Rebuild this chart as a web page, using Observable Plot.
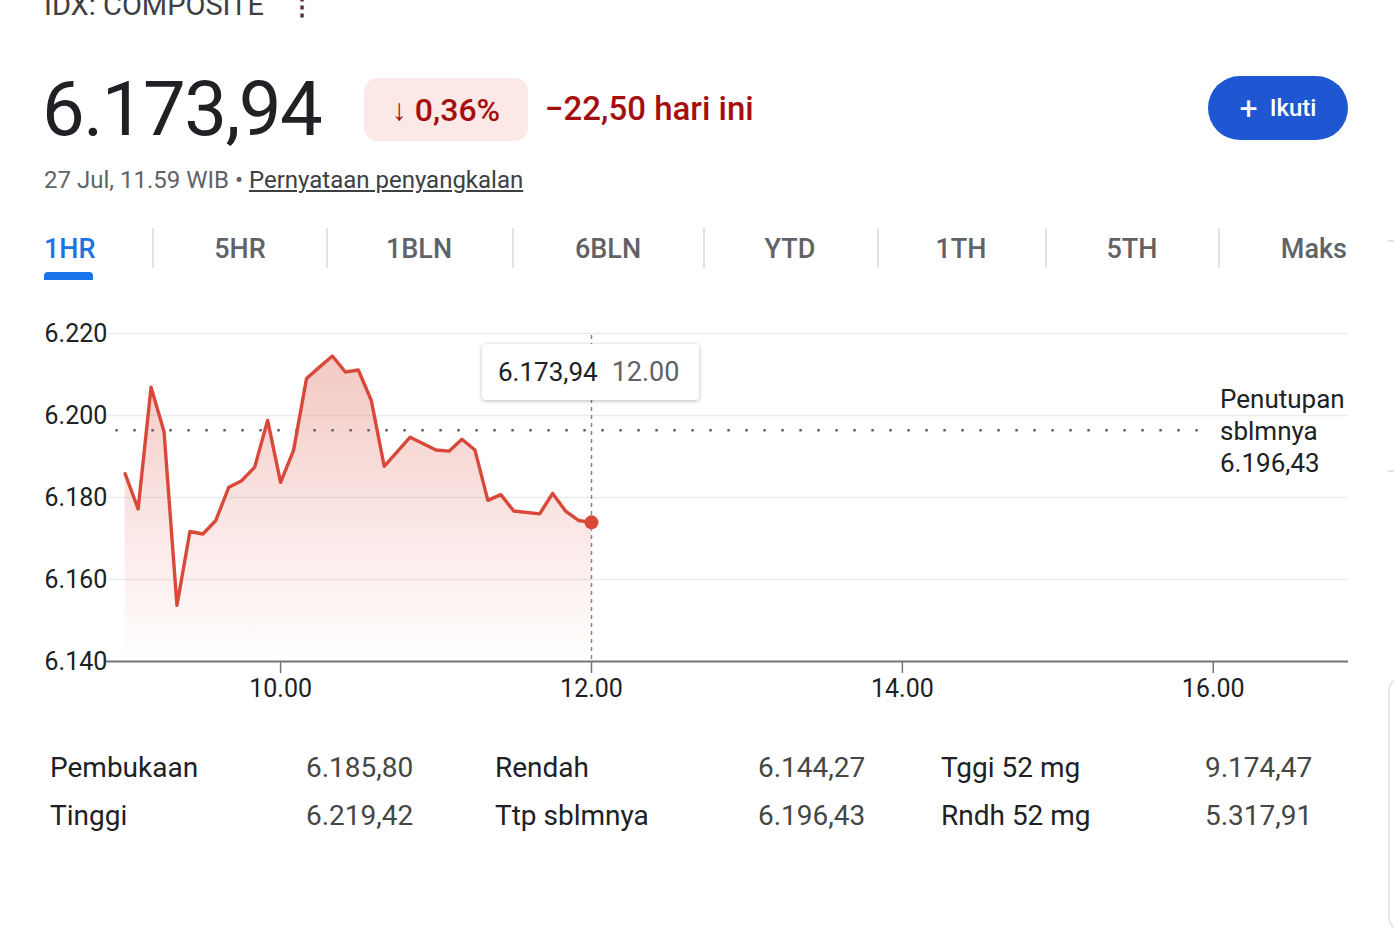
<!DOCTYPE html>
<html><head><meta charset="utf-8">
<script src="https://cdn.jsdelivr.net/npm/d3@7"></script>
<script src="https://cdn.jsdelivr.net/npm/@observablehq/plot@0.6"></script>
<style>
body{margin:0;background:#fff;font-family:Roboto,"Noto Sans",sans-serif;color:#202124;width:1394px;height:952px;position:relative;overflow:hidden}
.abs{position:absolute;white-space:nowrap}
.tab{position:absolute;top:235px;font-size:27px;font-weight:500;color:#5f6368;line-height:28px;transform:translateX(-50%)}
.sep{position:absolute;top:228px;width:2px;height:40px;background:#e3e3e3}
.st{position:absolute;font-size:28px;line-height:28px;white-space:nowrap}
.lab{color:#202124}.val{color:#444746}
</style></head><body>

<div class="abs" style="left:44px;top:-9px;font-size:29px;line-height:29px;color:#3c4043">IDX: COMPOSITE<span style="margin-left:26px;font-weight:700;font-size:24px">⋮</span></div>
<div class="abs" style="left:42px;top:71px;font-size:76px;line-height:76px;letter-spacing:-1.5px;color:#202124">6.173,94</div>
<div class="abs" style="left:364px;top:78px;width:164px;height:63px;border-radius:14px;background:#fce8e6;display:flex;align-items:center;justify-content:center;color:#a50e0e;font-size:32px;font-weight:500"><span style="font-size:30px;font-weight:400;margin-right:8px">↓</span>0,36%</div>
<div class="abs" style="left:545px;top:89px;font-size:33px;line-height:40px;color:#a50e0e;font-weight:500">−22,50 hari ini</div>
<div class="abs" style="left:44px;top:166px;font-size:24px;line-height:28px;color:#5f6368">27 Jul, 11.59 WIB • <span style="text-decoration:underline;color:#3c4043">Pernyataan penyangkalan</span></div>
<div class="abs" style="left:1208px;top:76px;width:140px;height:64px;border-radius:32px;background:#1f57d3;color:#fff;display:flex;align-items:center;justify-content:center;font-size:24px;font-weight:500"><span style="font-size:32px;font-weight:400;margin-right:12px;line-height:24px">+</span>Ikuti</div>

<div class="abs" style="left:44px;top:235px;font-size:27px;font-weight:500;color:#1a73e8;line-height:28px">1HR</div>
<div class="abs" style="left:44px;top:272px;width:49px;height:8px;background:#1a73e8;border-radius:4px 4px 0 0"></div>
<div class="tab" style="left:240px">5HR</div>
<div class="tab" style="left:419px">1BLN</div>
<div class="tab" style="left:608px">6BLN</div>
<div class="tab" style="left:790px">YTD</div>
<div class="tab" style="left:961px">1TH</div>
<div class="tab" style="left:1132px">5TH</div>
<div class="abs" style="right:47px;top:235px;font-size:27px;font-weight:500;color:#5f6368;line-height:28px">Maks</div>
<div class="sep" style="left:152px"></div><div class="sep" style="left:326px"></div><div class="sep" style="left:512px"></div>
<div class="sep" style="left:703px"></div><div class="sep" style="left:877px"></div><div class="sep" style="left:1045px"></div><div class="sep" style="left:1218px"></div>
<div class="abs" style="left:1388px;top:240px;width:8px;height:2px;background:#e3e3e3"></div>
<div class="abs" style="left:1388px;top:470px;width:8px;height:2px;background:#e3e3e3"></div>
<div class="abs" style="left:1388px;top:676px;width:30px;height:256px;border:2px solid #e6e6e6;border-radius:18px;box-sizing:border-box"></div>

<div id="chart" class="abs" style="left:0;top:300px"></div>

<div class="abs" style="left:482px;top:344px;width:217px;height:56px;background:#fff;border-radius:4px;box-shadow:0 1px 4px rgba(0,0,0,0.28);font-size:26px;line-height:56px">
  <span style="margin-left:16px;color:#202124">6.173,94</span><span style="margin-left:14px;color:#5f6368;font-size:27px">12.00</span></div>
<div class="abs" style="left:1220px;top:383px;font-size:26px;line-height:32px;color:#202124">Penutupan<br>sblmnya<br>6.196,43</div>

<div class="st lab" style="left:50px;top:754px">Pembukaan</div><div class="st val" style="left:306px;top:754px">6.185,80</div>
<div class="st lab" style="left:495px;top:754px">Rendah</div><div class="st val" style="left:758px;top:754px">6.144,27</div>
<div class="st lab" style="left:941px;top:754px">Tggi 52 mg</div><div class="st val" style="left:1205px;top:754px">9.174,47</div>
<div class="st lab" style="left:50px;top:802px">Tinggi</div><div class="st val" style="left:306px;top:802px">6.219,42</div>
<div class="st lab" style="left:495px;top:802px">Ttp sblmnya</div><div class="st val" style="left:758px;top:802px">6.196,43</div>
<div class="st lab" style="left:941px;top:802px">Rndh 52 mg</div><div class="st val" style="left:1205px;top:802px">5.317,91</div>

<script>
// minutes after 09.00 and index values
const minutes = [0,5,10,15,20,25,30,35,40,45,50,55,60,65,70,75,80,85,90,95,100,110,120,125,130,135,140,145,150,160,165,170,175,180];
const values = [6185.8,6177.2,6206.9,6196.1,6153.7,6171.7,6171.1,6174.4,6182.5,6184.1,6187.4,6198.8,6183.7,6191.5,6209.0,6211.8,6214.5,6210.6,6211.1,6203.7,6187.6,6194.7,6191.6,6191.3,6194.2,6191.6,6179.3,6180.7,6176.7,6176.0,6181.0,6176.7,6174.4,6173.94];
const prevClose = 6196.43;
const yTicks = [6140,6160,6180,6200,6220];
const xTicks = [10,12,14,16];
const currentTime = 12;

const data = minutes.map((m,i)=>({t: 9 + m/60, v: values[i]}));
const fmtY = d => d3.format(",")(d).replace(",", ".");
const red = "#d9493a";

const chart = Plot.plot({
  width:1394, height:420, marginLeft:106, marginRight:46, marginTop:33, marginBottom:59,
  style:{fontFamily:"Roboto, sans-serif", fontSize:"25px", color:"#202124", background:"transparent", overflow:"visible"},
  x:{domain:[8.88,16.87], label:null},
  y:{domain:[6140,6220], label:null},
  marks:[
    () => {
      const defs = d3.create("svg:defs");
      const g = defs.append("linearGradient").attr("id","areaGrad").attr("x1",0).attr("x2",0).attr("y1",0).attr("y2",1);
      g.append("stop").attr("offset","0%").attr("stop-color",red).attr("stop-opacity",0.3);
      g.append("stop").attr("offset","100%").attr("stop-color",red).attr("stop-opacity",0);
      return defs.node();
    },
    Plot.ruleY(yTicks.slice(1), {stroke:"#ececec", strokeWidth:1.5}),
    Plot.areaY(data, {x:"t", y1:6140, y2:"v", fill:"url(#areaGrad)"}),
    Plot.ruleY([prevClose], {x1:8.94, x2:16.0, stroke:"#5f6368", strokeWidth:2.5, strokeDasharray:"2.5,15.5"}),
    Plot.ruleX([currentTime], {y1:6219.5, y2:6140, stroke:"#80868b", strokeWidth:1.5, strokeDasharray:"4,4"}),
    Plot.ruleY([6140], {stroke:"#757575", strokeWidth:2}),
    Plot.line(data, {x:"t", y:"v", stroke:red, strokeWidth:3.4, strokeLinejoin:"round"}),
    Plot.dot(data.slice(-1), {x:"t", y:"v", r:7, fill:red}),
    Plot.axisX(xTicks, {label:null, tickSize:12, tickPadding:6, stroke:"#757575", strokeWidth:1.5, tickFormat:d=>`${d}.00`, fill:"#202124"}),
    Plot.axisY(yTicks, {label:null, tickSize:0, tickPadding:0, dx:-62, textAnchor:"start", tickFormat:fmtY, fill:"#202124"})
  ]
});
document.getElementById("chart").appendChild(chart);
</script>
</body></html>
